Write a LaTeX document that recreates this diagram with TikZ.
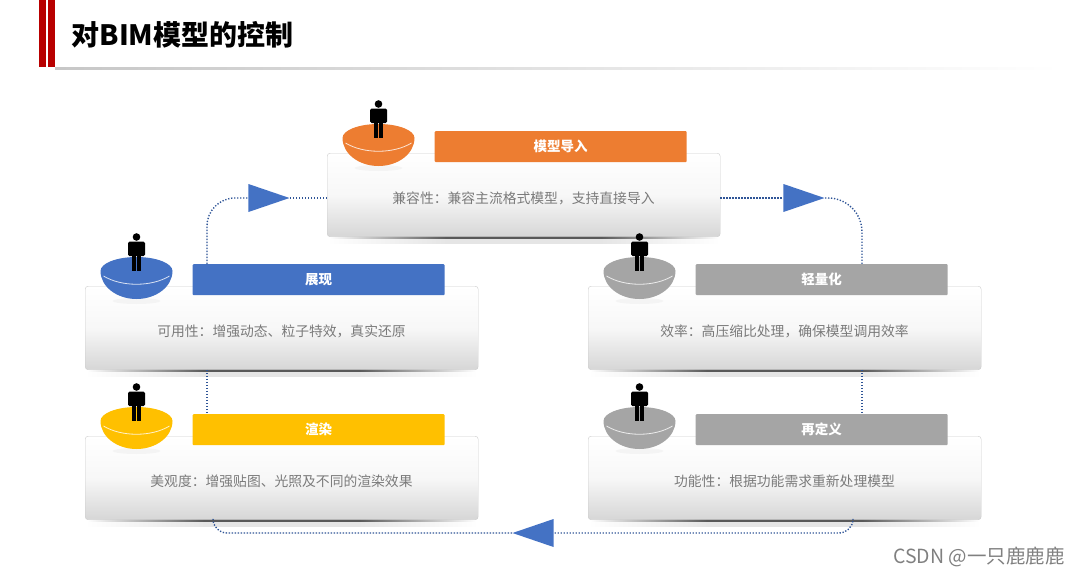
\documentclass[tikz,border=0pt]{standalone}
\usepackage{fontspec}
\setmainfont{Noto Sans CJK SC}
\usetikzlibrary{shapes.geometric}
\definecolor{barred}{HTML}{B80000}
\definecolor{flowblue}{HTML}{4472C4}
\definecolor{flowdot}{HTML}{2F5597}
\definecolor{partorange}{HTML}{ED7D31}
\definecolor{partblue}{HTML}{4472C4}
\definecolor{partyellow}{HTML}{FFC000}
\definecolor{partgray}{HTML}{A5A5A5}
\pgfdeclarehorizontalshading{cardshadow}{100bp}{color(0bp)=(white); color(25bp)=(white); color(40bp)=(black!65); color(60bp)=(black!65); color(75bp)=(white); color(100bp)=(white)}
\pgfdeclarehorizontalshading{cardglow}{100bp}{color(0bp)=(white); color(25bp)=(white); color(40bp)=(black!10); color(60bp)=(black!10); color(75bp)=(white); color(100bp)=(white)}
\tikzset{
    card/.style={draw=black!20,rounded corners=3,top color=white,bottom color=black!16,middle color=black!3,minimum width=393,minimum height=83.5,inner sep=0,anchor=north west},
    headbar/.style={rounded corners=1,minimum width=252,minimum height=31,inner sep=0,anchor=north west,text=white,font=\bfseries\fontsize{13.5}{14}\selectfont},
    bodytext/.style={text=black!52,font=\fontsize{13.8}{14}\selectfont,inner sep=0},
    flowline/.style={flowdot,line width=1.4,dash pattern=on 1.3 off 1.7},
    flowtip/.style={isosceles triangle,isosceles triangle stretches,fill=flowblue,inner sep=0,minimum width=28,minimum height=41}
}
\begin{document}
\begin{tikzpicture}[x=1pt,y=-1pt]
    \useasboundingbox (0,0) rectangle (1080,576);
    %title bars and rule
    \fill[barred] (39,0) rectangle (46,67);
    \fill[barred] (48,0) rectangle (55,67);
    \shade[left color=black!22,middle color=black!20,right color=white] (55,67.5) rectangle (1060,69);
    \node[anchor=west,inner sep=0,font=\bfseries\fontsize{28}{30}\selectfont] (title) at (71.5,35) {对BIM模型的控制};
    %cards with bowl and figure
    \foreach \nm/\x/\y/\col/\hd/\txt in {%
        import/327/153/partorange/模型导入/兼容性：兼容主流格式模型，支持直接导入,
        show/85/286/partblue/展现/可用性：增强动态、粒子特效，真实还原,
        light/588/286/partgray/轻量化/效率：高压缩比处理，确保模型调用效率,
        render/85/436/partyellow/渲染/美观度：增强贴图、光照及不同的渲染效果,
        redef/588/436/partgray/再定义/功能性：根据功能需求重新处理模型}
        {%
            \begin{scope}[shift={(\x,\y)}]
                \shade[shading=cardglow] (0,83) rectangle (393,90);
                \shade[shading=cardshadow] (2,83) rectangle (391,85.5);
                \node[card] (card\nm) at (0,0) {};
                \node[bodytext] (text\nm) at (196.5,45) {\txt};
                \node[headbar,fill=\col] (head\nm) at (107.5,-22) {\hd};
                \begin{scope}[shift={(51.5,-15)}]
                    \fill[black,opacity=.03] (0,30) ellipse[x radius=24,y radius=3];
                    \fill[\col] (-36,0) arc[start angle=180,end angle=360,x radius=36,y radius=14]
                        arc[start angle=0,end angle=180,x radius=36,y radius=28] -- cycle;
                    \draw[white,opacity=.8,line width=.8] (-33,5) .. controls (-15,16) and (15,16) .. (33,5);
                    \fill (0,-34) circle[radius=3.8];
                    \fill[rounded corners=1.5] (-8.5,-29.5) rectangle (8.5,-15);
                    \fill (-4.5,-16) rectangle (-.5,0);
                    \fill (.5,-16) rectangle (4.5,0);
                \end{scope}
            \end{scope}
        }
    %flow arrows between the cards
    \node[flowtip,anchor=apex] (tipleft) at (290,198) {};
    \node[flowtip,anchor=apex] (tipright) at (825,198) {};
    \node[flowtip,shape border rotate=180,anchor=apex] (tipbottom) at (512,533) {};
    \draw[flowline,rounded corners=28] (207,0 |- headshow.north) |- (tipleft.west);
    \draw[flowline] (tipleft.apex) -- (cardimport.west |- tipleft.apex);
    \draw[flowline] (cardimport.east |- tipright.apex) -- (tipright.west);
    \draw[flowline,rounded corners=34] (tipright.apex) -| (862,0 |- headlight.north);
    \draw[flowline] (862,0 |- cardlight.south) -- (862,0 |- headredef.north);
    \draw[flowline] (207,0 |- cardshow.south) -- (207,0 |- headrender.north);
    \draw[flowline,rounded corners=14] (853,0 |- cardredef.south) |- (tipbottom.east);
    \draw[flowline,rounded corners=14] (tipbottom.apex) -| (213,0 |- cardrender.south);
    %footer mark
    \node[anchor=east,inner sep=0,text=black!50,font=\fontsize{19.5}{20}\selectfont] (mark) at (1065,557) {CSDN @一只鹿鹿鹿};
\end{tikzpicture}
\end{document}
